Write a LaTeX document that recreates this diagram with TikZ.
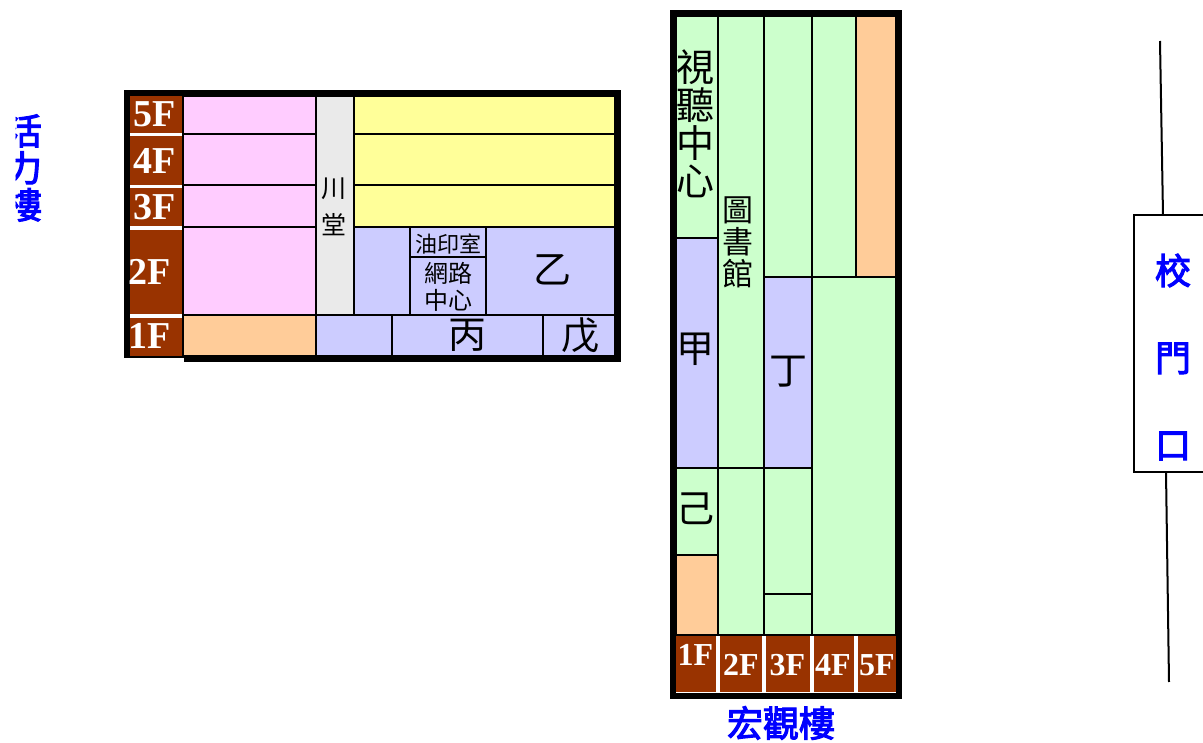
\documentclass[tikz,border=0pt]{standalone}
\usepackage{fontspec}
\setmainfont{Liberation Serif}
\newfontfamily\cjk{Noto Sans CJK TC}
\newfontfamily\cjkblue[FakeBold=3]{Noto Sans CJK TC}
\usepackage{tikz}
\definecolor{floorbrown}{HTML}{993300}
\definecolor{roompink}{HTML}{FFCCFF}
\definecolor{roomyellow}{HTML}{FFFF99}
\definecolor{roomblue}{HTML}{CCCCFF}
\definecolor{roomgreen}{HTML}{CCFFCC}
\definecolor{roomorange}{HTML}{FFCC99}
\definecolor{roomgray}{HTML}{EAEAEA}
\tikzstyle{room} = [draw=black, line width=2pt]
\tikzstyle{road} = [draw=black, line width=2pt]
\tikzstyle{floorlabel} = [inner sep=0pt, text=white, font=\bfseries\fontsize{38}{38}\selectfont]
\tikzstyle{floorlabel2} = [inner sep=0pt, text=white, font=\bfseries\fontsize{32}{32}\selectfont]
\tikzstyle{roomtext} = [inner sep=0pt, align=center, text=black, font=\cjk\fontsize{38}{38}\selectfont]
\tikzstyle{smalltext} = [inner sep=0pt, align=center, text=black, font=\cjk\fontsize{22}{27}\selectfont]
\tikzstyle{blocktext} = [inner sep=0pt, align=center, text=blue, font=\cjkblue\fontsize{36}{37}\selectfont]

\begin{document}
\begin{tikzpicture}[x=1pt, y=-1pt]
\useasboundingbox (0,0) rectangle (1203,743);

% huoli building =============================
\fill[black] (124,90) rectangle (621,358);
\fill[black] (184,358) rectangle (621,362);
\fill[white] (130,96) rectangle (183,356);

% floors
\fill[floorbrown] (130,96) rectangle (182,133.5);
\fill[floorbrown] (130,136.5) rectangle (182,185);
\fill[floorbrown] (130,188.5) rectangle (182,226);
\fill[floorbrown] (130,230) rectangle (182,314);
\fill[floorbrown] (130,318) rectangle (182,356);
\node[floorlabel] (h5) at (155,114) {5F};
\node[floorlabel] (h4) at (155,161) {4F};
\node[floorlabel] (h3) at (155,207) {3F};
\node[floorlabel] (h2) at (150,272) {2F};
\node[floorlabel] (h1) at (150,336) {1F};

% rooms
\path[room, fill=roompink] (183,96) rectangle (316,134);
\path[room, fill=roompink] (183,134) rectangle (316,185);
\path[room, fill=roompink] (183,185) rectangle (316,227);
\path[room, fill=roompink] (183,227) rectangle (316,315);
\path[room, fill=roomorange] (183,315) rectangle (316,356);
\path[room, fill=roomgray] (316,96) rectangle (354,315);
\path[room, fill=roomyellow] (354,96) rectangle (615,134);
\path[room, fill=roomyellow] (354,134) rectangle (615,185);
\path[room, fill=roomyellow] (354,185) rectangle (615,227);
\path[room, fill=roomblue] (354,227) rectangle (410,315);
\path[room, fill=roomblue] (410,227) rectangle (486,257);
\path[room, fill=roomblue] (410,257) rectangle (486,315);
\path[room, fill=roomblue] (486,227) rectangle (615,315);
\path[room, fill=roomblue] (316,315) rectangle (392,356);
\path[room, fill=roomblue] (392,315) rectangle (543,356);
\path[room, fill=roomblue] (543,315) rectangle (615,356);
\draw[line width=6pt] (615,93) -- (618,93) -- (618,359) -- (184,359);

\node[smalltext, font=\cjk\fontsize{25}{37}\selectfont] (hall) at (334,207) {川\\堂};
\node[smalltext] (print) at (448,244) {油印室};
\node[smalltext, font=\cjk\fontsize{24}{27}\selectfont] (net) at (448,287) {網路\\中心};
\node[roomtext] (yi) at (552,270) {乙};
\node[roomtext] (bing) at (467,335) {丙};
\node[roomtext] (wu) at (580,335) {戊};

\begin{scope}
\clip (15.5,100) rectangle (60,230);
\node[blocktext] (huoli) at (24,168) {活\\力\\樓};
\end{scope}

% hongguan building =============================
\fill[black] (670,10.5) rectangle (902,698.5);
\fill[white] (676,634) rectangle (896,693);

% floors
\fill[floorbrown] (676,636) rectangle (716,692);
\fill[floorbrown] (720,636) rectangle (762,692);
\fill[floorbrown] (766,636) rectangle (810,692);
\fill[floorbrown] (814,636) rectangle (854,692);
\fill[floorbrown] (858,636) rectangle (896,692);
\node[floorlabel2] (g1) at (695.5,655) {1F};
\node[floorlabel2] (g2) at (741,665) {2F};
\node[floorlabel2] (g3) at (787.5,665) {3F};
\node[floorlabel2] (g4) at (833,665) {4F};
\node[floorlabel2] (g5) at (877,665) {5F};

% rooms
\path[room, fill=roomgreen] (676,16) rectangle (718,238);
\path[room, fill=roomblue] (676,238) rectangle (718,468);
\path[room, fill=roomgreen] (676,468) rectangle (718,555);
\path[room, fill=roomorange] (676,555) rectangle (718,635);
\path[room, fill=roomgreen] (718,16) rectangle (764,468);
\path[room, fill=roomgreen] (718,468) rectangle (764,635);
\path[room, fill=roomgreen] (764,16) rectangle (812,277);
\path[room, fill=roomblue] (764,277) rectangle (812,468);
\path[room, fill=roomgreen] (764,468) rectangle (812,594);
\path[room, fill=roomgreen] (764,594) rectangle (812,635);
\path[room, fill=roomgreen] (812,16) rectangle (856,277);
\path[room, fill=roomorange] (856,16) rectangle (896,277);
\path[room, fill=roomgreen] (812,277) rectangle (896,635);
\draw[line width=6pt] (673,13.5) rectangle (899,695.5);

\node[roomtext] (av) at (695,124) {視\\聽\\中\\心};
\node[roomtext, font=\cjk\fontsize{31}{32}\selectfont] (lib) at (738,242) {圖\\書\\館};
\node[roomtext] (jia) at (695,349) {甲};
\node[roomtext] (ding) at (788,372) {丁};
\node[roomtext] (ji) at (695,509) {己};
\node[blocktext] (hongguan) at (781,723) {宏觀樓};

% school gate =============================
\coordinate (roadn1) at (1160,41);
\coordinate (roadn2) at (1163,215);
\coordinate (roads1) at (1166,472);
\coordinate (roads2) at (1169,682);
\path[road] (roadn1) -- (roadn2);
\path[road] (roads1) -- (roads2);
\path[road] (1203,215) -- (1134,215) -- (1134,472) -- (1203,472);
\node[blocktext, font=\cjkblue\fontsize{36}{87}\selectfont] (gate) at (1173,357) {校\\門\\口};

\end{tikzpicture}
\end{document}
